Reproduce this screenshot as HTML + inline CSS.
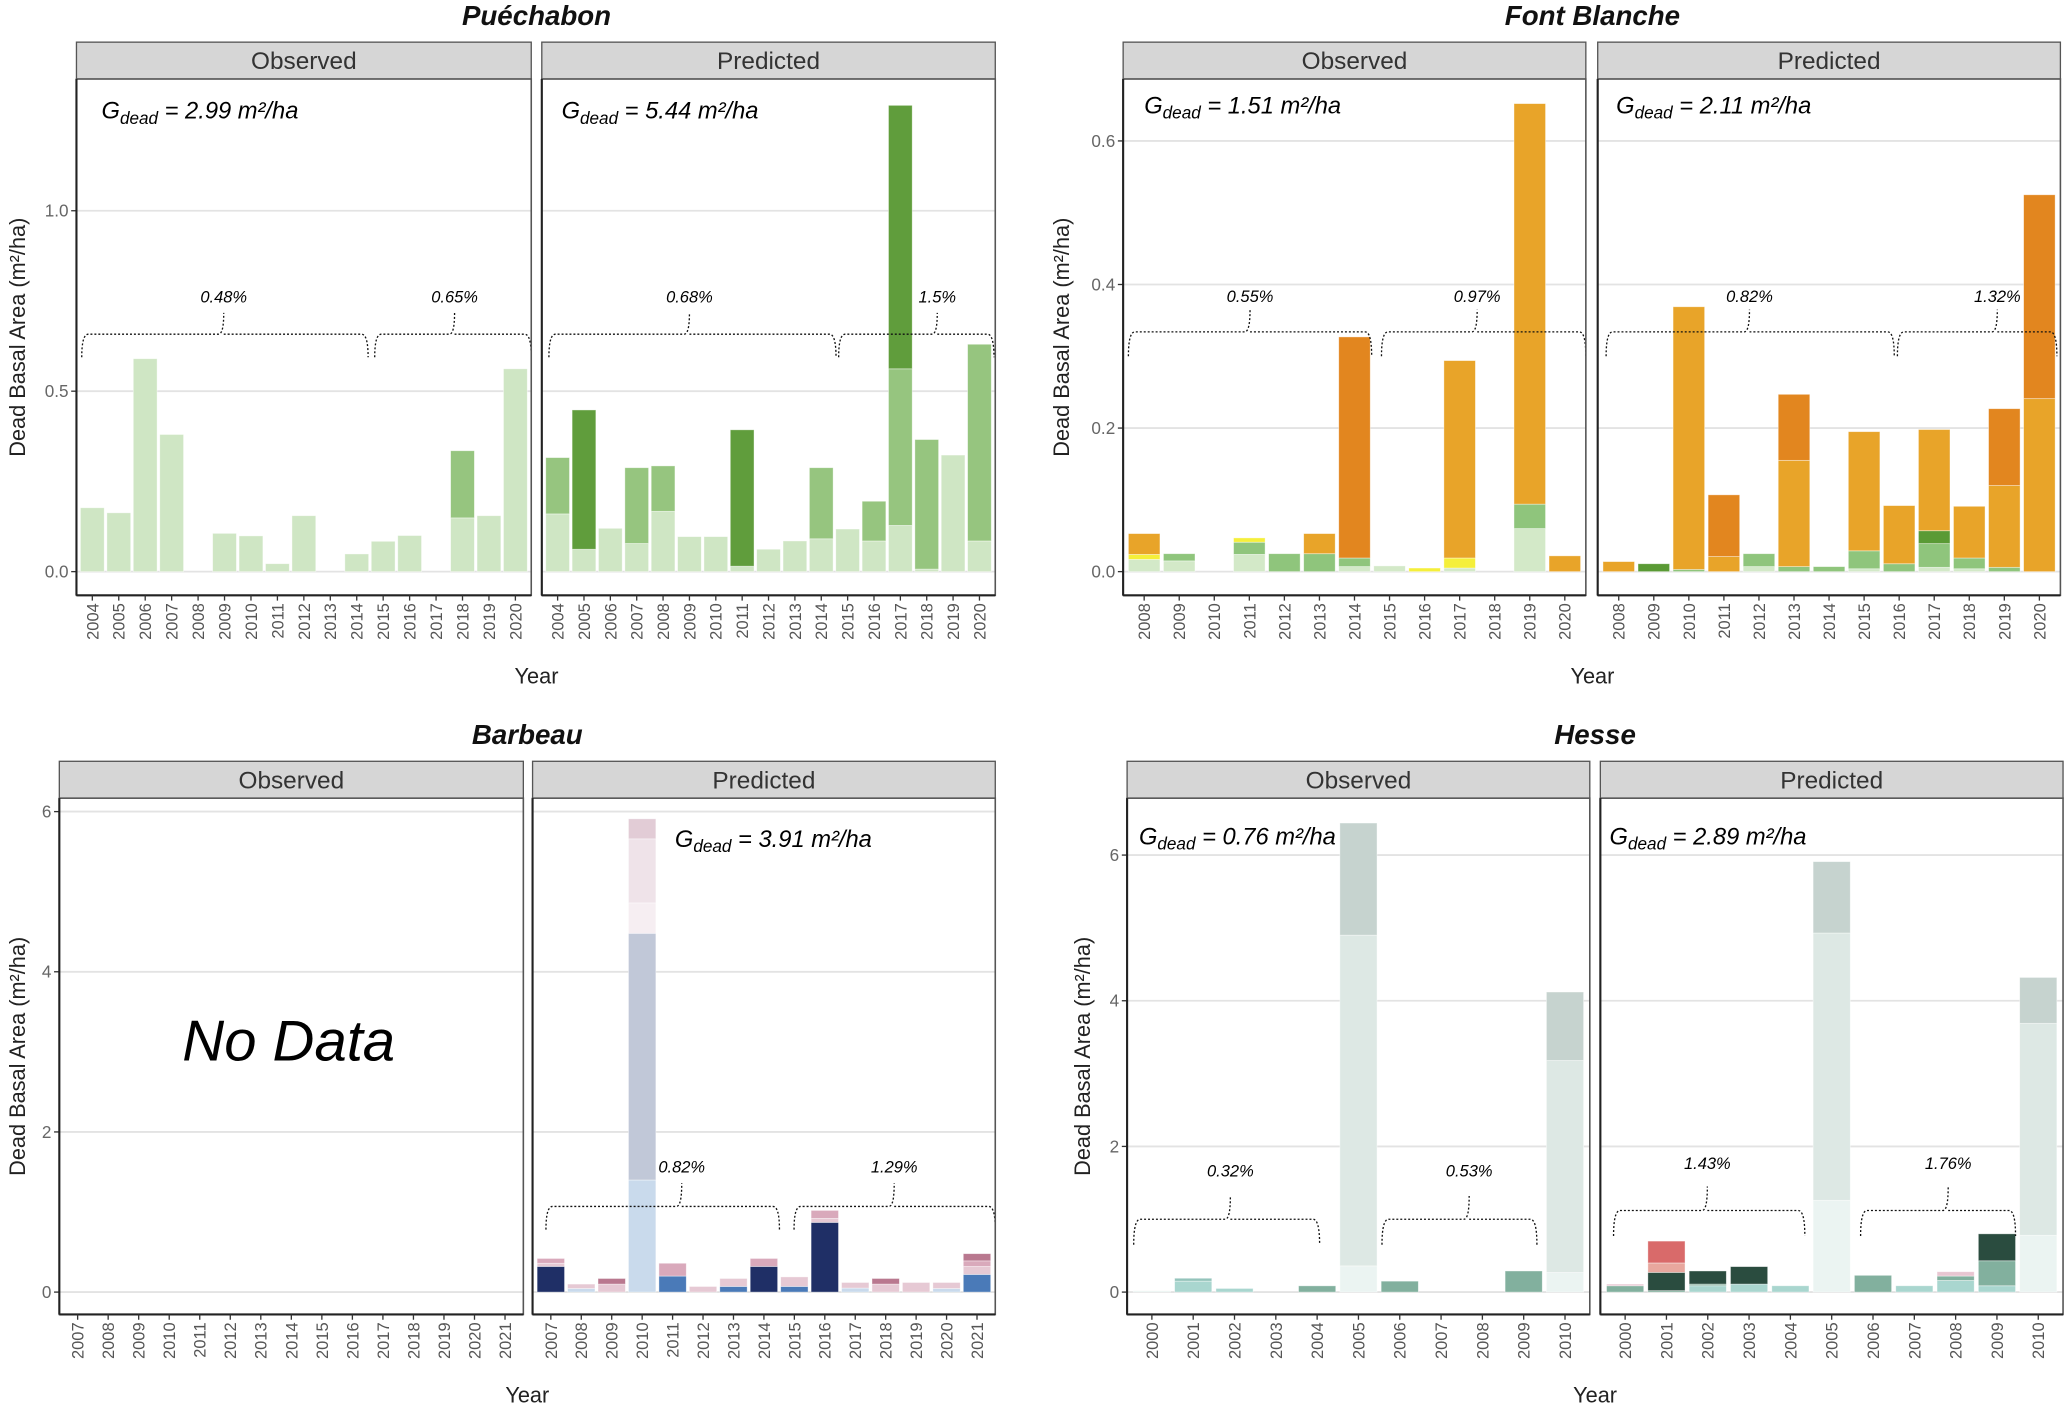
<!DOCTYPE html>
<html><head><meta charset="utf-8"><style>
html,body{margin:0;padding:0;background:#fff}
svg{display:block;font-family:"Liberation Sans",Arial,sans-serif}
</style></head><body>
<svg id="fig" width="2067" height="1408" viewBox="0 0 1568 1069" preserveAspectRatio="none" xmlns="http://www.w3.org/2000/svg"></svg>
<script>
// ---------- data ----------
const pueYears = ['2004','2005','2006','2007','2008','2009','2010','2011','2012','2013','2014','2015','2016','2017','2018','2019','2020'];
const pueObsTops = [[0.177],[0.163],[0.59],[0.38],[],[0.106],[0.099],[0.022],[0.155],[],[0.049],[0.084],[0.10],[],[0.149,0.335],[0.155],[0.562]];
const pueObsCols = [['L'],['L'],['L'],['L'],[],['L'],['L'],['L'],['L'],[],['L'],['L'],['L'],[],['L','M'],['L'],['L']];
const puePredTops = [[0.16,0.316],[0.062,0.448],[0.12],[0.078,0.288],[0.167,0.293],[0.097],[0.097],[0.015,0.393],[0.062],[0.085],[0.091,0.288],[0.118],[0.085,0.195],[0.128,0.562,1.292],[0.007,0.366],[0.323],[0.085,0.63]];
const puePredCols = [['L','M'],['L','D'],['L'],['L','M'],['L','M'],['L'],['L'],['L','D'],['L'],['L'],['L','M'],['L'],['L','M'],['L','M','D'],['L','M'],['L'],['L','M']];
const pueTicks = [0,0.5,1.0];
const pueTickLabels = ['0.0','0.5','1.0'];

const fbYears = ['2008','2009','2010','2011','2012','2013','2014','2015','2016','2017','2018','2019','2020'];
const fbObsTops = [[0.017,0.024,0.053],[0.015,0.025],[],[0.024,0.041,0.047],[0.025],[0.025,0.053],[0.007,0.019,0.327],[0.008],[0.005],[0.005,0.019,0.294],[],[0.06,0.094,0.652],[0.022]];
const fbObsCols = [['L','Y','O'],['L','M'],[],['L','M','Y'],['M'],['M','O'],['L','M','DO'],['L'],['Y'],['L','Y','O'],[],['L','M','O'],['O']];
const fbPredTops = [[0.014],[0.011],[0.003,0.369],[0.021,0.107],[0.007,0.025],[0.007,0.155,0.247],[0.007],[0.004,0.029,0.195],[0.011,0.092],[0.006,0.039,0.057,0.198],[0.004,0.019,0.091],[0.006,0.12,0.227],[0.241,0.525]];
const fbPredCols = [['O'],['DG'],['M','O'],['O','DO'],['L','M'],['M','O','DO'],['M'],['L','M','O'],['M','O'],['L','M','DG','O'],['L','M','O'],['M','O','DO'],['O','DO']];
const fbTicks = [0,0.2,0.4,0.6];
const fbTickLabels = ['0.0','0.2','0.4','0.6'];

const barYears = ['2007','2008','2009','2010','2011','2012','2013','2014','2015','2016','2017','2018','2019','2020','2021'];
const barPredTops = [[0.32,0.36,0.42],[0.045,0.1],[0.1,0.17],[1.4,4.48,4.86,5.66,5.91],[0.2,0.36],[0.07],[0.07,0.17],[0.32,0.42],[0.07,0.19],[0.87,0.92,1.02],[0.05,0.12],[0.1,0.17],[0.12],[0.045,0.12],[0.22,0.32,0.39,0.48]];
const barPredCols = [['N','LP','P'],['LB','LP'],['LP','M'],['LB','GB','VP','LP2','PP'],['B','P'],['LP'],['B','LP'],['N','P'],['B','LP'],['N','LP','P'],['LB','LP'],['LP','M'],['LP'],['LB','LP'],['B','LP','P','M']];
const barTicks = [0,2,4,6];
const barTickLabels = ['0','2','4','6'];

const hesYears = ['2000','2001','2002','2003','2004','2005','2006','2007','2008','2009','2010'];
const hesObsTops = [[0.02],[0.15,0.19],[0.05],[],[0.086],[0.36,4.9,6.44],[0.15],[],[],[0.29],[0.27,3.18,4.12]];
const hesObsCols = [['VL'],['T','T2'],['T'],[],['M'],['VL','LG','G'],['M'],[],[],['M'],['VL','LG','G']];
const hesPredTops = [[0.087,0.11],[0.02,0.27,0.4,0.7],[0.087,0.11,0.29],[0.11,0.35],[0.087],[1.26,4.93,5.91],[0.23],[0.087],[0.16,0.22,0.28],[0.087,0.43,0.8],[0.78,3.69,4.32]];
const hesPredCols = [['M','P'],['M','D','LR','R'],['T','M','D'],['T','D'],['T'],['VL','LG','G'],['M'],['T'],['T','M','P'],['T','M','D'],['VL','LG','G']];
const hesTicks = [0,2,4,6];
const hesTickLabels = ['0','2','4','6'];

// ---------- styling ----------
const COL = {
 pue:{L:'#cfe6c4',M:'#96c57f',D:'#609d3c'},
 fb:{L:'#d3e9c8',M:'#8fc57c',DG:'#5a9a35',Y:'#f5ef3a',O:'#e8a429',DO:'#e2861f'},
 bar:{N:'#1f2f66',B:'#4a7ab8',LB:'#c9daec',GB:'#c1c8d8',VP:'#f6eef2',LP:'#e6c9d4',LP2:'#efe3e9',P:'#d9a9bb',PP:'#e2ccd6',M:'#b9788f'},
 hes:{VL:'#ebf4f2',LG:'#dde8e4',G:'#c6d3cf',T:'#a9d6cf',T2:'#94c4bb',M:'#82b09e',D:'#2a4c3f',R:'#d96a6a',LR:'#e8a79e',P:'#e8c6d1'}
};
const NS='http://www.w3.org/2000/svg';
const svg=document.getElementById('fig');
function el(tag,attrs,parent,text){const e=document.createElementNS(NS,tag);for(const k in attrs)e.setAttribute(k,attrs[k]);if(text!==undefined)e.textContent=text;(parent||svg).appendChild(e);return e;}

function yScale(p){return v=>p.y0-v*p.k;}
function xScale(p,x0,x1,n){const u=(x1-x0)/(n+0.2);return i=>x0+(i+0.6)*u;} // i index from 0 -> center
function unitX(x0,x1,n,uPos){const u=(x1-x0)/(n+0.2);return x0+(uPos-0.4)*u;}

function drawPanel(p,side,x0,x1,years,tops,cols,palette,gtext,gpos,brackets,panelName){
 const g=el('g',{});
 
 
 const ys=yScale(p);
 // strip
 const st=el('rect',{x:x0,y:p.sTop,width:x1-x0,height:p.pTop-p.sTop,fill:'#d6d6d6',stroke:'#555','stroke-width':1},g);
 
 
 const stt=el('text',{x:(x0+x1)/2,y:(p.sTop+p.pTop)/2+6.5,'text-anchor':'middle','font-size':18.5,fill:'#333'},g,side);
 
 
 // panel bg
 el('rect',{x:x0,y:p.pTop,width:x1-x0,height:p.pBot-p.pTop,fill:'#fff'},g);
 p.ticks.forEach(t=>{const gl=el('line',{x1:x0,x2:x1,y1:ys(t),y2:ys(t),stroke:'#e3e3e3','stroke-width':1.4},g);
  
  });
 const n=years.length;const xs=xScale(p,x0,x1,n);const bw=(x1-x0)/(n+0.2)*0.9;
 tops.forEach((arr,i)=>{let prev=0;arr.forEach((v,j)=>{
   const r=el('rect',{x:xs(i)-bw/2,y:ys(v),width:bw,height:Math.max(0,ys(prev)-ys(v)),fill:palette[cols[i][j]],stroke:'rgba(255,255,255,0.5)','stroke-width':0.6},g);
   
   
   prev=v;});});
 // brackets
 brackets.forEach(b=>{
  const xa=unitX(x0,x1,n,b.u1),xb=unitX(x0,x1,n,b.u2),xm=unitX(x0,x1,n,b.um);
  const yh=ys(b.yh),ye=ys(b.ye),yp=ys(b.yp);
  const d=`M${xa},${ye} Q${xa},${yh} ${xa+5},${yh} L${xm-4},${yh} Q${xm},${yh} ${xm},${yp} M${xm},${yh} Q${xm},${yh} ${xm+4},${yh} L${xb-5},${yh} Q${xb},${yh} ${xb},${ye}`;
  const pa=el('path',{d:d,fill:'none',stroke:'#111','stroke-width':1,'stroke-dasharray':'1.5,1.5'},g);
  
  
  const lt=el('text',{x:xm,y:ys(b.yl)+4,'text-anchor':'middle','font-size':12.5,'font-style':'italic',fill:'#000'},g,b.label);
  
  
 });
 // border
 const bd=el('rect',{x:x0,y:p.pTop,width:x1-x0,height:p.pBot-p.pTop,fill:'none',stroke:'#555','stroke-width':1.2},g);
 
 
 el('line',{x1:x0,x2:x1,y1:p.pBot,y2:p.pBot,stroke:'#222','stroke-width':1.6},g);
 // x ticks
 years.forEach((yr,i)=>{
  el('line',{x1:xs(i),x2:xs(i),y1:p.pBot,y2:p.pBot+4,stroke:'#333','stroke-width':1},g);
  const t=el('text',{x:0,y:0,transform:`translate(${xs(i)+4.5},${p.pBot+6}) rotate(-90)`,'text-anchor':'end','font-size':12.5,fill:'#555'},g,yr);
  
  
 });
 if(gtext){
  const gt=el('text',{x:gpos[0],y:gpos[1]+6,'font-size':18,'font-style':'italic',fill:'#000'},g);
  
  
  el('tspan',{},gt,'G');
  el('tspan',{'font-size':13,dy:4},gt,'dead');
  el('tspan',{dy:-4},gt,' = '+gtext+' m²/ha');
 }
}

function drawChart(p){
 const ys=yScale(p);
 const tt=el('text',{x:p.tx,y:p.ty,'text-anchor':'middle','font-size':21,'font-weight':'bold','font-style':'italic',fill:'#111'},svg,p.title);
 
 
 p.ticks.forEach((t,i)=>{
  el('line',{x1:p.ox0-4,x2:p.ox0,y1:ys(t),y2:ys(t),stroke:'#333','stroke-width':1});
  const l=el('text',{x:p.ox0-6,y:ys(t)+4.5,'text-anchor':'end','font-size':13,fill:'#666'},svg,p.tickLabels[i]);
  
  
 });
 el('line',{x1:p.ox0,x2:p.ox0,y1:p.pTop,y2:p.pBot,stroke:'#222','stroke-width':1.6});
 el('line',{x1:p.px0,x2:p.px0,y1:p.pTop,y2:p.pBot,stroke:'#222','stroke-width':1.6});
 const yt=el('text',{x:0,y:0,transform:`translate(${p.yx},${(p.pTop+p.pBot)/2}) rotate(-90)`,'text-anchor':'middle','font-size':16.5,fill:'#222'},svg,'Dead Basal Area (m²/ha)');
 
 
 const xt=el('text',{x:p.tx,y:p.xty,'text-anchor':'middle','font-size':16.5,fill:'#222'},svg,'Year');
 
 
}

// ---------- Puéchabon ----------
const P1={title:'Puéchabon',tx:407,ty:19,sTop:32,pTop:60,pBot:452,y0:434,k:274,ticks:pueTicks,tickLabels:pueTickLabels,ox0:58,ox1:403,px0:411,px1:755,yx:19,xty:519};
drawPanel(P1,'Observed',58,403,pueYears,pueObsTops,pueObsCols,COL.pue,'2.99',[77,84],
 [{u1:0.6,u2:11.43,um:5.97,yh:0.658,ye:0.594,yp:0.717,yl:0.76,label:'0.48%'},{u1:11.68,u2:17.6,um:14.7,yh:0.658,ye:0.594,yp:0.717,yl:0.76,label:'0.65%'}],'puechabon-observed');
drawPanel(P1,'Predicted',411,755,pueYears,puePredTops,puePredCols,COL.pue,'5.44',[426,84],
 [{u1:0.67,u2:11.56,um:6.0,yh:0.658,ye:0.594,yp:0.717,yl:0.76,label:'0.68%'},{u1:11.66,u2:17.55,um:15.4,yh:0.658,ye:0.594,yp:0.717,yl:0.76,label:'1.5%'}],'puechabon-predicted');
drawChart(P1);

// ---------- Font Blanche ----------
const P2={title:'Font Blanche',tx:1208,ty:19,sTop:32,pTop:60,pBot:452,y0:434,k:545,ticks:fbTicks,tickLabels:fbTickLabels,ox0:852,ox1:1203,px0:1212,px1:1563,yx:811,xty:519};
drawPanel(P2,'Observed',852,1203,fbYears,fbObsTops,fbObsCols,COL.fb,'1.51',[868,80],
 [{u1:0.55,u2:7.49,um:4.02,yh:0.334,ye:0.3,yp:0.365,yl:0.383,label:'0.55%'},{u1:7.77,u2:13.6,um:10.5,yh:0.334,ye:0.3,yp:0.365,yl:0.383,label:'0.97%'}],'fontblanche-observed');
drawPanel(P2,'Predicted',1212,1563,fbYears,fbPredTops,fbPredCols,COL.fb,'2.11',[1226,80],
 [{u1:0.64,u2:8.86,um:4.73,yh:0.334,ye:0.3,yp:0.365,yl:0.383,label:'0.82%'},{u1:8.95,u2:13.5,um:11.8,yh:0.334,ye:0.3,yp:0.365,yl:0.383,label:'1.32%'}],'fontblanche-predicted');
drawChart(P2);

// ---------- Barbeau ----------
const P3={title:'Barbeau',tx:400,ty:565,sTop:578,pTop:606,pBot:998,y0:981,k:60.8,ticks:barTicks,tickLabels:barTickLabels,ox0:45,ox1:397,px0:404,px1:755,yx:19,xty:1065};
drawPanel(P3,'Observed',45,397,barYears,[],[],COL.bar,null,null,[],'barbeau-observed');
drawPanel(P3,'Predicted',404,755,barYears,barPredTops,barPredCols,COL.bar,'3.91',[512,637],
 [{u1:0.84,u2:8.51,um:5.3,yh:1.07,ye:0.78,yp:1.36,yl:1.56,label:'0.82%'},{u1:8.99,u2:15.6,um:12.28,yh:1.07,ye:0.78,yp:1.36,yl:1.56,label:'1.29%'}],'barbeau-predicted');
drawChart(P3);
const nd=el('text',{x:219,y:805,'text-anchor':'middle','font-size':44,'font-style':'italic',fill:'#000'},svg,'No Data');



// ---------- Hesse ----------
const P4={title:'Hesse',tx:1210,ty:565,sTop:578,pTop:606,pBot:998,y0:981,k:55.3,ticks:hesTicks,tickLabels:hesTickLabels,ox0:855,ox1:1206,px0:1214,px1:1565,yx:827,xty:1065};
drawPanel(P4,'Observed',855,1206,hesYears,hesObsTops,hesObsCols,COL.hes,'0.76',[864,635],
 [{u1:0.56,u2:5.06,um:2.9,yh:1.0,ye:0.65,yp:1.32,yl:1.66,label:'0.32%'},{u1:6.57,u2:10.32,um:8.68,yh:1.0,ye:0.65,yp:1.32,yl:1.66,label:'0.53%'}],'hesse-observed');
drawPanel(P4,'Predicted',1214,1565,hesYears,hesPredTops,hesPredCols,COL.hes,'2.89',[1221,635],
 [{u1:0.72,u2:5.35,um:2.99,yh:1.12,ye:0.77,yp:1.45,yl:1.76,label:'1.43%'},{u1:6.7,u2:10.45,um:8.82,yh:1.12,ye:0.77,yp:1.45,yl:1.76,label:'1.76%'}],'hesse-predicted');
drawChart(P4);
</script>
</body></html>
